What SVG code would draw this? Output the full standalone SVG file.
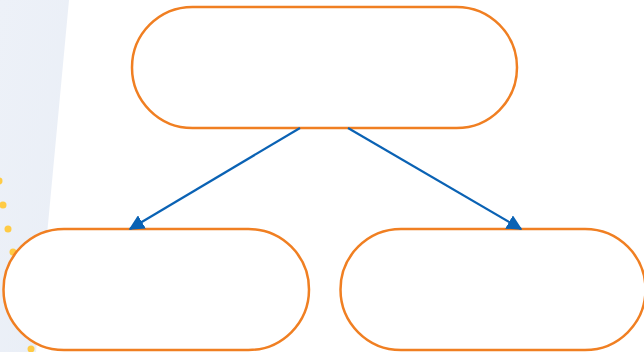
<svg xmlns="http://www.w3.org/2000/svg" width="644" height="352" viewBox="0 0 644 352">
<defs>
<linearGradient id="bg" x1="0" y1="0" x2="1" y2="1">
<stop offset="0" stop-color="#EDF1F8"/>
<stop offset="1" stop-color="#E9EEF6"/>
</linearGradient>
<marker id="ah" viewBox="0 0 10 10" refX="9" refY="5" markerWidth="7" markerHeight="7" markerUnits="strokeWidth" orient="auto">
<path d="M0,0 L10,5 L0,10 z" fill="#0A62B4"/>
</marker>
<style>
.node{fill:#FFFFFF;stroke:#F07F22;stroke-width:2.5}
.edge{fill:none;stroke:#0A62B4;stroke-width:2.2}
.dot{fill:#FFCB45}
</style>
</defs>
<rect width="644" height="352" fill="#FFFFFF"/>
<polygon points="0,0 69,0 36,352 0,352" fill="url(#bg)"/>
<g id="dots">
<circle class="dot" cx="-1" cy="181" r="3.5"/>
<circle class="dot" cx="3" cy="205" r="3.5"/>
<circle class="dot" cx="8" cy="229" r="3.5"/>
<circle class="dot" cx="13" cy="252" r="3.5"/>
<circle class="dot" cx="31" cy="349" r="3.5"/>
</g>
<g id="node-top"><rect class="node" x="132" y="7" width="385" height="121" rx="60.5"/></g>
<g id="node-left"><rect class="node" x="3.5" y="229" width="305.5" height="121" rx="60.5"/></g>
<g id="node-right"><rect class="node" x="340.5" y="229" width="305" height="121" rx="60.5"/></g>
<g id="connectors">
<line class="edge" x1="300" y1="128" x2="130" y2="229" marker-end="url(#ah)"/>
<line class="edge" x1="348" y1="128" x2="521" y2="229" marker-end="url(#ah)"/>
</g>
</svg>
